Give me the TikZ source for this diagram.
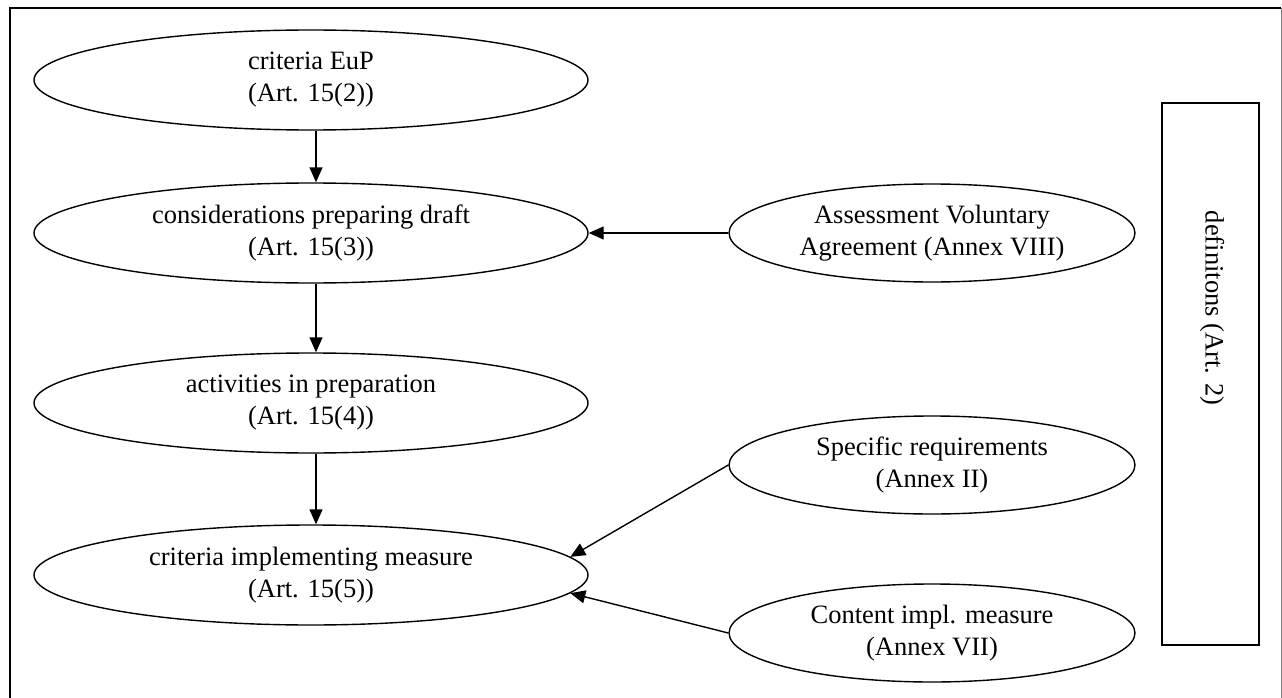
\documentclass[tikz,border=0pt]{standalone}
\usepackage{fontspec}
\setmainfont{Liberation Serif}
\usetikzlibrary{shapes.geometric,arrows.meta}
\begin{document}
\begin{tikzpicture}[x=1pt,y=-1pt,
  oval/.style={draw,line width=1.4pt,ellipse,inner sep=0pt,align=center,
    font=\fontsize{26.5}{32}\selectfont},
  leftoval/.style={oval,minimum width=554pt,minimum height=100pt},
  rightoval/.style={oval,minimum width=406pt,minimum height=98pt},
  conn/.style={line width=1.4pt,-{Triangle[length=15pt,width=13pt]}}]
\useasboundingbox (0,0) rectangle (1282,698);
% frame
\draw[line width=2.2pt] (10,699) -- (10,8) -- (1281,8);
\draw[line width=1pt,gray] (1281,8) -- (1281,699);
% left column
\node[leftoval] (e1) at (311,80) {criteria EuP\\(Art. 15(2))};
\node[leftoval] (e2) at (311,233) {considerations preparing draft\\(Art. 15(3))};
\node[leftoval] (e3) at (311,403) {activities in preparation\\(Art. 15(4))};
\node[leftoval] (e4) at (311,575) {criteria implementing measure\\(Art. 15(5))};
% right column
\node[rightoval] (a) at (932,233) {Assessment Voluntary\\Agreement (Annex VIII)};
\node[rightoval] (s) at (932,465) {Specific requirements\\(Annex II)};
\node[rightoval] (c) at (932,633) {Content impl. measure\\(Annex VII)};
% definitions box
\node[draw,line width=2pt,minimum width=97pt,minimum height=542pt,inner sep=0pt] (d) at (1210.5,374) {};
\node[rotate=-90,font=\fontsize{26.5}{32}\selectfont,inner sep=0pt] (dt) at (1212,308) {definitons (Art. 2)};
% connectors
\draw[conn] ([xshift=5pt]e1.south) -- ([xshift=5pt]e2.north);
\draw[conn] ([xshift=5pt]e2.south) -- ([xshift=5pt]e3.north);
\draw[conn] ([xshift=5pt]e3.south) -- ([xshift=5pt]e4.north);
\draw[conn] (a) -- (e2);
\draw[conn] (s.west) -- (e4.4);
\draw[conn] (c.west) -- (e4.-4);
\end{tikzpicture}
\end{document}
